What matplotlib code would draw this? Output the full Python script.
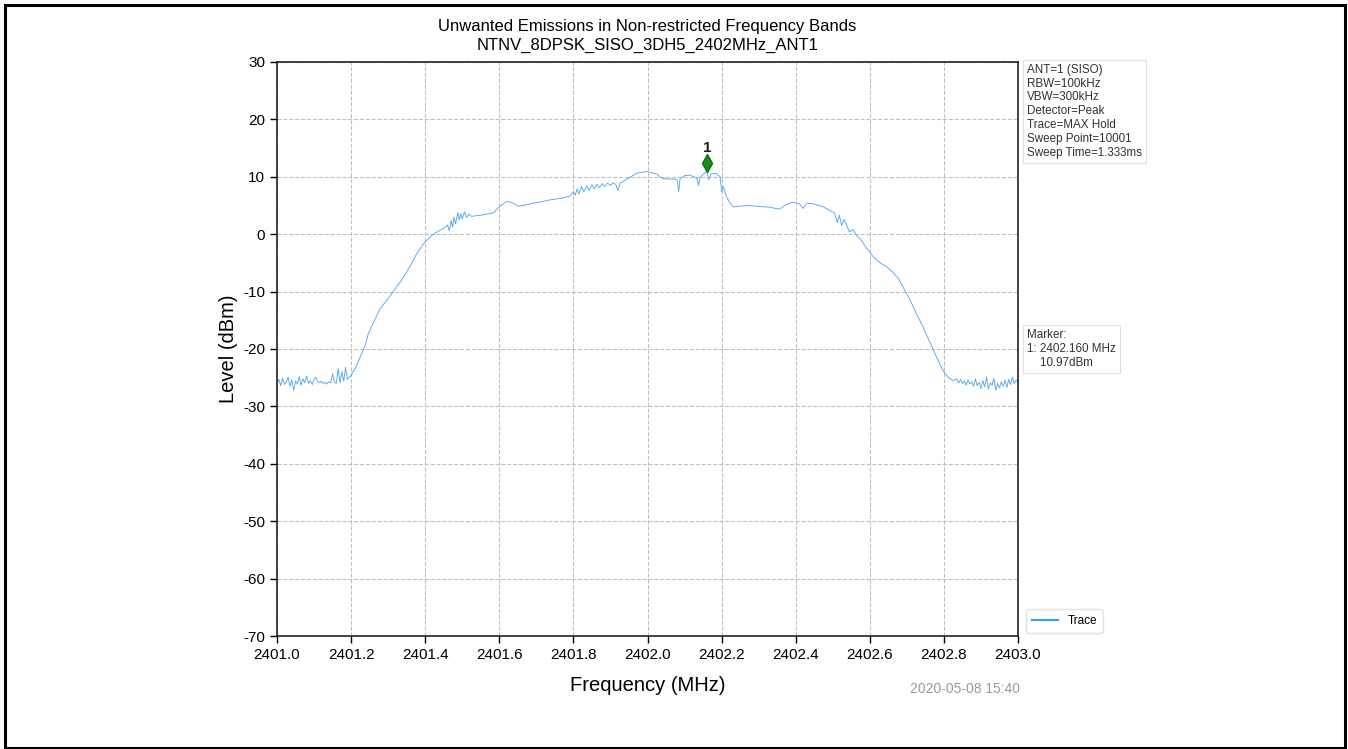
import matplotlib
matplotlib.use("Agg")
import matplotlib.pyplot as plt
import matplotlib.transforms as mtransforms
from matplotlib.patches import Rectangle

plt.rcParams['font.family'] = ['Liberation Sans', 'DejaVu Sans']
plt.rcParams['axes.unicode_minus'] = False

title_lines = ["Unwanted Emissions in Non-restricted Frequency Bands",
               "NTNV_8DPSK_SISO_3DH5_2402MHz_ANT1"]
x_label = "Frequency (MHz)"
y_label = "Level (dBm)"
x_ticks = [2401.0, 2401.2, 2401.4, 2401.6, 2401.8, 2402.0, 2402.2, 2402.4, 2402.6, 2402.8, 2403.0]
y_ticks = [30, 20, 10, 0, -10, -20, -30, -40, -50, -60, -70]

freq_mhz = [
    2401.000, 2401.005, 2401.010, 2401.015, 2401.020, 2401.025, 2401.030, 2401.035, 2401.040, 2401.045,
    2401.050, 2401.055, 2401.060, 2401.065, 2401.070, 2401.075, 2401.080, 2401.085, 2401.090, 2401.095,
    2401.100, 2401.105, 2401.110, 2401.115, 2401.120, 2401.125, 2401.130, 2401.135, 2401.140, 2401.145,
    2401.150, 2401.155, 2401.160, 2401.165, 2401.170, 2401.175, 2401.180, 2401.185, 2401.190, 2401.195,
    2401.200, 2401.215, 2401.225, 2401.238, 2401.246, 2401.260, 2401.278, 2401.300, 2401.318, 2401.335,
    2401.350, 2401.365, 2401.377, 2401.395, 2401.418, 2401.435, 2401.449, 2401.460, 2401.465, 2401.470,
    2401.474, 2401.478, 2401.482, 2401.488, 2401.492, 2401.496, 2401.500, 2401.506, 2401.512, 2401.518,
    2401.525, 2401.535, 2401.550, 2401.565, 2401.584, 2401.600, 2401.620, 2401.635, 2401.650, 2401.665,
    2401.690, 2401.710, 2401.730, 2401.750, 2401.770, 2401.790, 2401.800, 2401.805, 2401.810, 2401.815,
    2401.822, 2401.828, 2401.836, 2401.842, 2401.850, 2401.856, 2401.864, 2401.870, 2401.878, 2401.885,
    2401.892, 2401.900, 2401.908, 2401.915, 2401.920, 2401.926, 2401.940, 2401.955, 2401.970, 2401.985,
    2401.998, 2402.012, 2402.025, 2402.035, 2402.043, 2402.060, 2402.075, 2402.080, 2402.084, 2402.088,
    2402.100, 2402.115, 2402.125, 2402.133, 2402.138, 2402.142, 2402.150, 2402.160, 2402.165, 2402.172,
    2402.185, 2402.196, 2402.200, 2402.205, 2402.212, 2402.222, 2402.232, 2402.250, 2402.270, 2402.290,
    2402.310, 2402.330, 2402.345, 2402.358, 2402.370, 2402.383, 2402.394, 2402.410, 2402.420, 2402.430,
    2402.447, 2402.462, 2402.475, 2402.490, 2402.505, 2402.512, 2402.518, 2402.524, 2402.530, 2402.538,
    2402.545, 2402.555, 2402.565, 2402.574, 2402.590, 2402.610, 2402.628, 2402.646, 2402.660, 2402.677,
    2402.692, 2402.709, 2402.727, 2402.744, 2402.762, 2402.780, 2402.793, 2402.803, 2402.815, 2402.825,
    2402.835, 2402.840, 2402.845, 2402.850, 2402.855, 2402.860, 2402.865, 2402.870, 2402.875, 2402.880,
    2402.885, 2402.890, 2402.895, 2402.900, 2402.905, 2402.910, 2402.915, 2402.920, 2402.925, 2402.930,
    2402.935, 2402.940, 2402.945, 2402.950, 2402.955, 2402.960, 2402.965, 2402.970, 2402.975, 2402.980,
    2402.985, 2402.990, 2402.995, 2403.000,
]
level_dbm = [
    -26.0, -25.3, -26.4, -25.1, -26.2, -25.8, -24.9, -26.5, -25.4, -27.2,
    -25.6, -26.1, -24.8, -26.3, -25.2, -25.9, -24.7, -26.0, -25.5, -26.2,
    -25.3, -24.9, -25.7, -25.9, -25.6, -26.0, -25.8, -26.1, -25.7, -25.9,
    -24.3, -25.8, -26.0, -23.4, -25.9, -24.0, -25.6, -23.2, -25.3, -24.9,
    -24.6, -22.9, -21.3, -19.4, -17.4, -15.4, -13.0, -11.2, -9.6, -8.1,
    -6.6, -4.9, -3.4, -1.7, -0.2, 0.5, 1.0, 1.6, 0.6, 2.4,
    1.2, 3.0, 1.8, 3.8, 2.5, 3.6, 2.7, 3.9, 2.9, 3.5,
    3.1, 3.2, 3.3, 3.5, 3.7, 4.8, 5.7, 5.5, 4.9, 5.0,
    5.4, 5.6, 5.9, 6.1, 6.3, 6.6, 7.4, 6.8, 7.9, 7.0,
    8.3, 7.4, 8.4, 7.6, 8.6, 7.9, 8.7, 8.1, 8.8, 8.3,
    8.9, 8.5, 9.0, 8.6, 7.6, 8.9, 9.4, 10.0, 10.6, 10.8,
    10.9, 10.7, 10.5, 9.9, 9.7, 9.6, 9.6, 9.5, 7.4, 9.7,
    10.2, 10.3, 10.0, 9.8, 8.5, 9.9, 10.4, 10.97, 9.5, 10.5,
    10.6, 10.0, 7.4, 8.3, 6.7, 5.5, 4.75, 4.9, 5.0, 4.9,
    4.8, 4.7, 4.5, 4.4, 5.0, 5.4, 5.6, 5.3, 4.5, 5.4,
    5.3, 5.0, 4.75, 4.2, 3.7, 2.0, 3.3, 1.5, 2.6, 1.55,
    0.4, 0.8, -0.3, -0.8, -2.3, -4.0, -5.0, -5.7, -6.5, -7.7,
    -9.5, -11.5, -14.0, -16.2, -18.8, -21.4, -23.2, -24.3, -25.1, -25.5,
    -25.2, -25.9, -25.3, -26.0, -25.6, -26.3, -25.4, -26.1, -25.7, -26.5,
    -25.2, -26.4, -25.8, -26.9, -25.5, -26.6, -24.9, -27.0, -25.9, -26.3,
    -25.1, -27.2, -26.0, -26.8, -25.7, -26.5, -25.4, -26.7, -25.3, -26.2,
    -24.9, -26.0, -25.4, -25.8,
]

marker_freq = 2402.160
marker_level = 10.97
marker_label = "1"

info_lines = ["ANT=1 (SISO)", "RBW=100kHz", "VBW=300kHz", "Detector=Peak",
              "Trace=MAX Hold", "Sweep Point=10001", "Sweep Time=1.333ms"]
marker_info = "Marker:\n1: 2402.160 MHz\n    10.97dBm"
timestamp = "2020-05-08 15:40"

fig = plt.figure(figsize=(13.48, 7.49), dpi=100)
ax = fig.add_axes([277/1348, 1-636/749, (1018-277)/1348, (636-62)/749])

ax.plot(freq_mhz, level_dbm, color='#55a8f2', linewidth=0.65, label='Trace')

off = mtransforms.offset_copy(ax.transData, fig=fig, x=0, y=6, units='points')
ax.plot([marker_freq], [marker_level], marker='d', color='#1a8a1a', markersize=9,
        markeredgecolor='#0f6e0f', transform=off, linestyle='none')
off2 = mtransforms.offset_copy(ax.transData, fig=fig, x=0, y=17, units='points')
ax.text(marker_freq, marker_level, marker_label, transform=off2, ha='center', va='center',
        fontsize=11, fontweight='bold', color='#222222')

ax.set_xlim(2401.0, 2403.0)
ax.set_ylim(-70, 30)
ax.set_xticks(x_ticks)
ax.set_xticklabels([f"{t:.1f}" for t in x_ticks])
ax.set_yticks(y_ticks)
ax.tick_params(labelsize=11, length=5, width=1)
ax.grid(True, color='#c0c0c0', linestyle='--', linewidth=0.8)
ax.set_axisbelow(True)
for s in ax.spines.values():
    s.set_linewidth(1.2)
    s.set_color('#222222')

ax.set_xlabel(x_label, fontsize=14.5, labelpad=10)
ax.set_ylabel(y_label, fontsize=14.5, labelpad=4)
ax.set_title("\n".join(title_lines), fontsize=12, pad=9, linespacing=1.25)

bbox_style = dict(boxstyle='square,pad=0.35', facecolor='white', edgecolor='#e0e0e0', linewidth=0.8)
ax.text(1.012, 0.997, "\n".join(info_lines), transform=ax.transAxes, ha='left', va='top',
        fontsize=8.4, color='#333333', bbox=bbox_style, linespacing=1.2)
ax.text(1.012, 0.535, marker_info, transform=ax.transAxes, ha='left', va='top',
        fontsize=8.4, color='#333333', bbox=bbox_style, linespacing=1.2)

leg = ax.legend(loc='lower left', bbox_to_anchor=(1.003, -0.005), fontsize=8.5,
                frameon=True, fancybox=True, edgecolor='#dddddd', handlelength=2.2,
                borderpad=0.5)
for h in leg.get_lines():
    h.set_linewidth(1.6)
    h.set_color('#3d9ef2')

fig.text(965/1348, 1-689/749, timestamp, ha='center', va='center', fontsize=10, color='#999999')

fig.patches.append(Rectangle((5/1348, 1/749), (1345-5)/1348, (744-1)/749, transform=fig.transFigure,
                             fill=False, edgecolor='black', linewidth=2.2))

fig.savefig('out.png', dpi=100)
